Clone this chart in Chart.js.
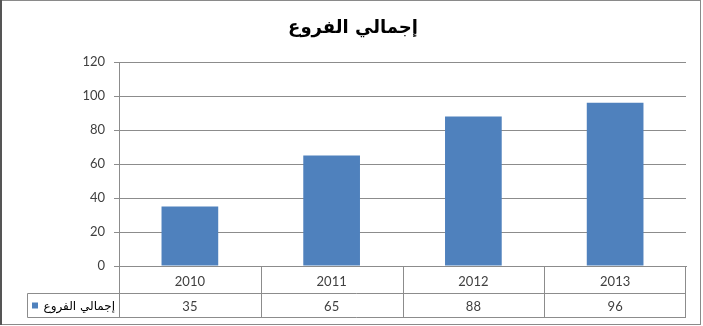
<!DOCTYPE html>
<html>
<head>
<meta charset="utf-8">
<script src="https://cdn.jsdelivr.net/npm/chart.js@4.4.1/dist/chart.umd.min.js"></script>
<style>
  html, body { margin: 0; padding: 0; background: #fff; }
  #wrap { width: 703px; height: 326px; position: relative; }
</style>
</head>
<body>
<div id="wrap"><canvas id="chart" width="703" height="326"></canvas></div>
<script>
// chart data
const chartTitle = 'إجمالي الفروع';
const seriesName = 'إجمالي الفروع';
const years = ['2010', '2011', '2012', '2013'];
const branches = [35, 65, 88, 96];

const barColor = '#4F81BD';
const lineColor = '#8C8C8C';
const textColor = '#404040';
const tickFont = { family: 'Lato, "Open Sans", sans-serif', size: 13 };

// frame, title and the data table under the axis
const tablePlugin = {
  id: 'tablePlugin',
  beforeDraw(chart) {
    const ctx = chart.ctx;
    ctx.save();
    ctx.fillStyle = '#fff';
    ctx.fillRect(0, 0, chart.width, chart.height);
    ctx.restore();
  },
  afterDraw(chart) {
    const ctx = chart.ctx;
    const area = chart.chartArea;
    const xScale = chart.scales.x;
    const legendLeft = 27;
    const rowSplit = 293.5;
    const tableBottom = 317.5;

    ctx.save();
    // outer frame
    ctx.strokeStyle = '#8a8a8a';
    ctx.lineWidth = 1;
    ctx.strokeRect(1.5, 0.5, 699, 324);
    ctx.strokeStyle = '#555';
    ctx.lineWidth = 2;
    ctx.beginPath();
    ctx.moveTo(1, 0);
    ctx.lineTo(1, 325);
    ctx.stroke();

    // title
    ctx.fillStyle = '#000';
    ctx.font = 'bold 18px "DejaVu Sans", Arial, sans-serif';
    ctx.textAlign = 'center';
    ctx.textBaseline = 'middle';
    ctx.fillText(chartTitle, 353, 28);

    // table grid
    ctx.strokeStyle = lineColor;
    ctx.lineWidth = 1;
    ctx.beginPath();
    ctx.moveTo(legendLeft + 0.5, rowSplit);
    ctx.lineTo(area.right, rowSplit);
    ctx.moveTo(legendLeft + 0.5, tableBottom);
    ctx.lineTo(area.right, tableBottom);
    ctx.moveTo(legendLeft + 0.5, rowSplit);
    ctx.lineTo(legendLeft + 0.5, tableBottom);
    ctx.moveTo(Math.round(area.left) + 0.5, area.bottom);
    ctx.lineTo(Math.round(area.left) + 0.5, tableBottom);
    ctx.moveTo(Math.round(area.right) - 0.5, area.bottom);
    ctx.lineTo(Math.round(area.right) - 0.5, tableBottom);
    for (let i = 1; i < years.length; i++) {
      const x = Math.round((xScale.getPixelForValue(i - 1) + xScale.getPixelForValue(i)) / 2) + 0.5;
      ctx.moveTo(x, area.bottom);
      ctx.lineTo(x, tableBottom);
    }
    ctx.stroke();

    // legend cell: key square then the series name
    const midY = (rowSplit + tableBottom) / 2;
    ctx.fillStyle = barColor;
    ctx.fillRect(legendLeft + 5, midY - 3, 6, 6);
    ctx.fillStyle = '#000';
    ctx.font = '12px "DejaVu Sans", Arial, sans-serif';
    ctx.textAlign = 'right';
    ctx.fillText(seriesName, area.left - 4, midY + 1);

    // values row
    ctx.fillStyle = textColor;
    ctx.font = '13px ' + tickFont.family;
    ctx.textAlign = 'center';
    chart.data.datasets[0].data.forEach((v, i) => {
      ctx.fillText(String(v), xScale.getPixelForValue(i), midY + 1);
    });
    ctx.restore();
  }
};

const ctx = document.getElementById('chart').getContext('2d');
new Chart(ctx, {
  type: 'bar',
  data: {
    labels: years,
    datasets: [{
      label: seriesName,
      data: branches,
      backgroundColor: barColor,
      borderWidth: 0,
      categoryPercentage: 0.4,
      barPercentage: 1
    }]
  },
  options: {
    responsive: false,
    animation: false,
    devicePixelRatio: 1,
    layout: { padding: { top: 62, right: 17, bottom: 8, left: 0 } },
    plugins: {
      legend: { display: false },
      title: { display: false },
      tooltip: { enabled: false }
    },
    scales: {
      y: {
        min: 0,
        max: 120,
        ticks: { stepSize: 20, color: textColor, font: tickFont, padding: 9 },
        grid: { color: lineColor, tickLength: 5, tickColor: lineColor },
        border: { color: lineColor },
        afterFit(scale) { scale.width = 119; }
      },
      x: {
        ticks: { color: textColor, font: tickFont, padding: 0 },
        grid: { display: false },
        border: { color: lineColor },
        afterFit(scale) { scale.height = 52; }
      }
    }
  },
  plugins: [tablePlugin]
});
</script>
</body>
</html>
